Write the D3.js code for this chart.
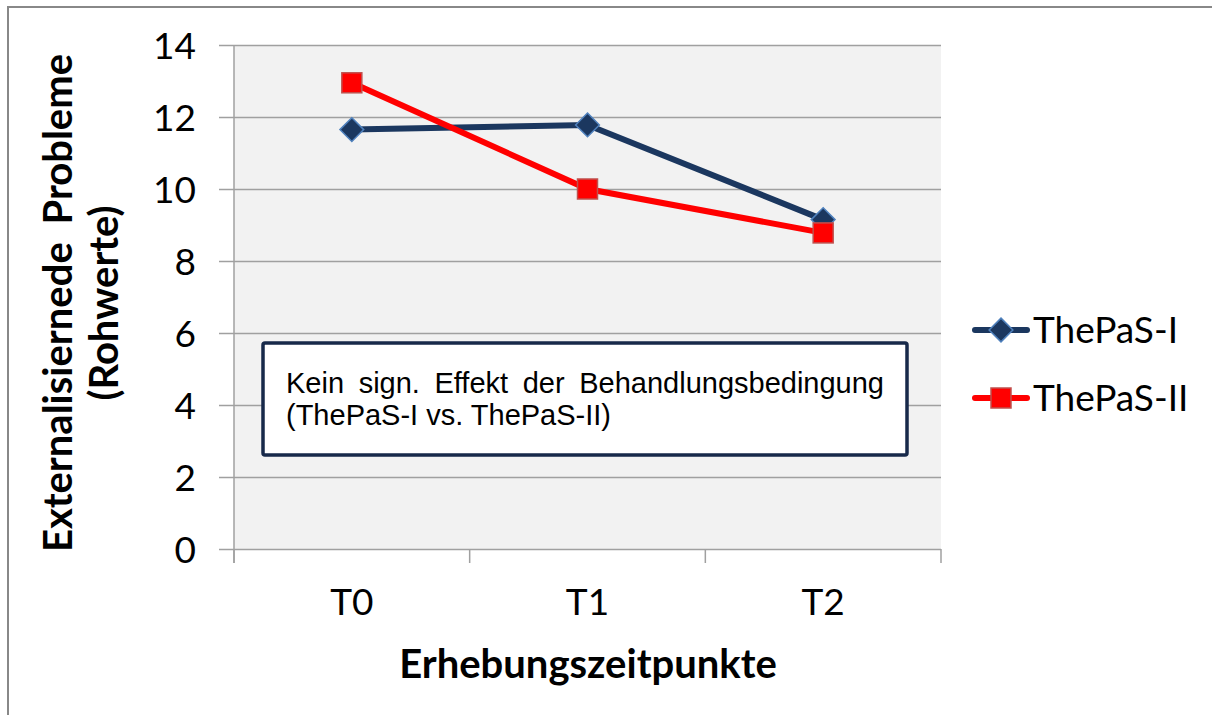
<!DOCTYPE html>
<html>
<head>
<meta charset="utf-8">
<script src="https://cdn.jsdelivr.net/npm/d3@7"></script>
<style>
  body { margin: 0; background: #fff; }
  text { font-family: Lato, "Open Sans", sans-serif; fill: #000; }
</style>
</head>
<body>
<svg id="chart" width="1212" height="715"></svg>
<script>
// data
var categories = ['T0', 'T1', 'T2'];
var thepas1 = [11.65, 11.78, 9.15];
var thepas2 = [12.95, 10.0, 8.78];
var yTicks = [0, 2, 4, 6, 8, 10, 12, 14];
var seriesNames = ['ThePaS-I', 'ThePaS-II'];

var svg = d3.select('#chart');

// outer frame (only top and left edge visible)
svg.append('rect')
   .attr('x', 8).attr('y', 7)
   .attr('width', 1300).attr('height', 800)
   .style('fill', '#fff')
   .style('stroke', '#888')
   .style('stroke-width', 2);

var plotL = 234, plotR = 941, plotT = 45, plotB = 549;

var xScale = d3.scaleBand()
               .domain(categories)
               .range([plotL, plotR]);

var yScale = d3.scaleLinear()
               .domain([0, 14])
               .range([plotB, plotT]);

// plot background
svg.append('rect')
   .attr('x', plotL).attr('y', plotT)
   .attr('width', plotR - plotL).attr('height', plotB - plotT)
   .style('fill', '#f2f2f2');

// y axis with gridlines
var yAxis = svg.append('g')
   .attr('transform', 'translate(' + plotL + ',0)')
   .call(d3.axisLeft(yScale).tickValues(yTicks).tickSize(0).tickPadding(38));
yAxis.select('.domain').remove();
yAxis.selectAll('.tick text')
     .style('font-family', 'Lato, sans-serif')
     .style('font-size', '37px')
     .attr('dy', '0.36em');
yAxis.selectAll('.tick').append('line')
     .attr('x1', -15).attr('x2', plotR - plotL)
     .style('stroke', '#a0a0a0')
     .style('stroke-width', 1.5);

// y axis vertical line
svg.append('line')
   .attr('x1', plotL).attr('x2', plotL)
   .attr('y1', plotT).attr('y2', plotB + 14)
   .style('stroke', '#a0a0a0')
   .style('stroke-width', 1.5);

// x axis
var xAxis = svg.append('g')
   .attr('transform', 'translate(0,' + plotB + ')')
   .call(d3.axisBottom(xScale).tickSize(0).tickPadding(40));
xAxis.select('.domain').remove();
xAxis.selectAll('.tick text')
     .style('font-family', 'Lato, sans-serif')
     .style('font-size', '37px');

// category boundary ticks
var bounds = categories.map(function(c){ return xScale(c); });
bounds.push(xScale(categories[categories.length - 1]) + xScale.bandwidth());
svg.selectAll('.xbound')
   .data(bounds)
   .enter().append('line')
   .attr('class', 'xbound')
   .attr('x1', function(d){ return d; })
   .attr('x2', function(d){ return d; })
   .attr('y1', plotB).attr('y2', plotB + 14)
   .style('stroke', '#a0a0a0')
   .style('stroke-width', 1.5);

// series
var cx = function(d, i){ return xScale(categories[i]) + xScale.bandwidth() / 2; };
var line = d3.line()
             .x(cx)
             .y(function(d){ return yScale(d); });

svg.append('path')
   .datum(thepas1)
   .attr('d', line)
   .style('fill', 'none')
   .style('stroke', '#1b375f')
   .style('stroke-width', 6);

svg.append('path')
   .datum(thepas2)
   .attr('d', line)
   .style('fill', 'none')
   .style('stroke', '#ff0000')
   .style('stroke-width', 6);

var diamond = d3.symbol().type(d3.symbolDiamond2).size(360);

svg.selectAll('.m1')
   .data(thepas1)
   .enter().append('path')
   .attr('class', 'm1')
   .attr('d', diamond)
   .attr('transform', function(d, i){ return 'translate(' + cx(d, i) + ',' + yScale(d) + ')'; })
   .style('fill', '#1b375f')
   .style('stroke', '#4f81bd')
   .style('stroke-width', 1.5);

svg.selectAll('.m2')
   .data(thepas2)
   .enter().append('rect')
   .attr('class', 'm2')
   .attr('x', function(d, i){ return cx(d, i) - 10; })
   .attr('y', function(d){ return yScale(d) - 10; })
   .attr('width', 20).attr('height', 20)
   .style('fill', '#ff0000')
   .style('stroke', '#c0504d')
   .style('stroke-width', 1.5);

// axis titles
svg.append('text')
   .attr('x', 588).attr('y', 678)
   .attr('text-anchor', 'middle')
   .style('font-weight', 'bold')
   .style('font-size', '40px')
   .text('Erhebungszeitpunkte');

var yTitle = svg.append('g')
   .attr('transform', 'translate(0,303) rotate(-90)');
yTitle.append('text')
   .attr('x', 0).attr('y', 72)
   .attr('text-anchor', 'middle')
   .style('font-weight', 'bold')
   .style('font-size', '40px')
   .style('word-spacing', '8px')
   .text('Externalisiernede Probleme');
yTitle.append('text')
   .attr('x', 0).attr('y', 118)
   .attr('text-anchor', 'middle')
   .style('font-weight', 'bold')
   .style('font-size', '40px')
   .text('(Rohwerte)');

// annotation box
svg.append('rect')
   .attr('x', 263).attr('y', 343)
   .attr('width', 644).attr('height', 112)
   .attr('rx', 2)
   .style('fill', '#fff')
   .style('stroke', '#17294a')
   .style('stroke-width', 3.5);

// first line is justified: spread the gaps between words
var note1 = svg.append('text')
   .attr('x', 286).attr('y', 393)
   .style('font-family', '"Liberation Sans", Arial, sans-serif')
   .style('font-size', '29px')
   .text('Kein sign. Effekt der Behandlungsbedingung');
var natural = note1.node().getComputedTextLength();
note1.style('word-spacing', Math.max(0, (598 - natural) / 4) + 'px');

svg.append('text')
   .attr('x', 286).attr('y', 425)
   .style('font-family', '"Liberation Sans", Arial, sans-serif')
   .style('font-size', '29px')
   .text('(ThePaS-I vs. ThePaS-II)');

// legend
var legendY = [330, 398];
var lg = svg.selectAll('.legend')
   .data(seriesNames)
   .enter().append('g')
   .attr('class', 'legend')
   .attr('transform', function(d, i){ return 'translate(975,' + legendY[i] + ')'; });

lg.append('line')
  .attr('x1', 0).attr('x2', 52)
  .attr('y1', 0).attr('y2', 0)
  .style('stroke', function(d, i){ return i === 0 ? '#1b375f' : '#ff0000'; })
  .style('stroke-width', 6)
  .style('stroke-linecap', 'round');

lg.filter(function(d, i){ return i === 0; })
  .append('path')
  .attr('d', diamond)
  .attr('transform', 'translate(26,0)')
  .style('fill', '#1b375f')
  .style('stroke', '#4f81bd')
  .style('stroke-width', 1.5);

lg.filter(function(d, i){ return i === 1; })
  .append('rect')
  .attr('x', 16).attr('y', -10)
  .attr('width', 20).attr('height', 20)
  .style('fill', '#ff0000')
  .style('stroke', '#c0504d')
  .style('stroke-width', 1.5);

lg.append('text')
  .attr('x', 58).attr('y', 0)
  .attr('dy', '0.36em')
  .style('font-size', '37px')
  .text(function(d){ return d; });
</script>
</body>
</html>
